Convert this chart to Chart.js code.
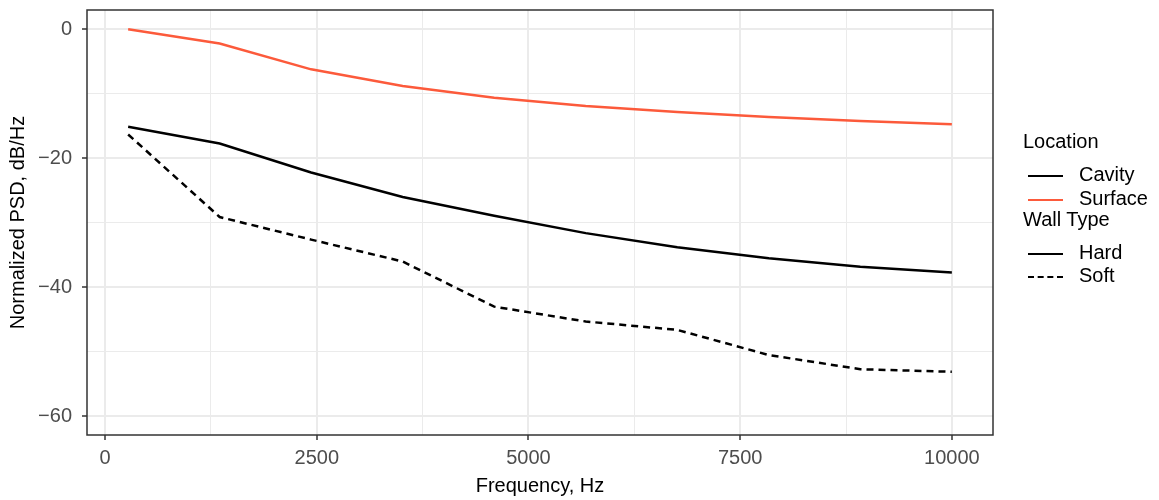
<!DOCTYPE html>
<html lang="en">
<head>
    <meta charset="UTF-8">
    <title>Normalized PSD</title>
    <script src="https://cdn.jsdelivr.net/npm/chart.js@4.4.0/dist/chart.umd.min.js"></script>
    <style>
        body {
            margin: 0;
            background: #ffffff;
            font-family: "Liberation Sans", Arial, sans-serif;
        }

        .wrap {
            position: relative;
            width: 1159px;
            height: 500px;
        }

        .legend {
            position: absolute;
            left: 1023px;
            top: 128px;
            color: #000;
            font-size: 20px;
        }

        .legend .ttl {
            position: absolute;
            left: 0;
            white-space: nowrap;
            line-height: 24px;
        }

        .legend .item {
            position: absolute;
            left: 5px;
            white-space: nowrap;
            line-height: 24px;
        }

        .legend .key {
            display: inline-block;
            width: 35px;
            height: 0;
            border-top: 2.5px solid #000;
            vertical-align: middle;
            margin-right: 16px;
        }
    </style>
</head>
<body>
    <div class="wrap">
        <canvas id="psdChart" width="1159" height="500"></canvas>
        <div class="legend">
            <div class="ttl" style="top:1px">Location</div>
            <div class="item" style="top:34px"><span class="key"></span>Cavity</div>
            <div class="item" style="top:58px"><span class="key" style="border-color:#fc5a3b"></span>Surface</div>
            <div class="ttl" style="top:79px">Wall Type</div>
            <div class="item" style="top:112px"><span class="key"></span>Hard</div>
            <div class="item" style="top:135px"><span class="key" style="border-top-style:dashed"></span>Soft</div>
        </div>
    </div>

    <script>
        // frequencies (Hz) and normalized PSD (dB/Hz)
        const freqs = [272, 1353, 2433, 3514, 4595, 5676, 6757, 7838, 8919, 10000];
        const surfaceHard = [0, -2.2, -6.2, -8.8, -10.6, -11.9, -12.8, -13.6, -14.2, -14.7];
        const cavityHard = [-15.1, -17.7, -22.2, -26.0, -28.9, -31.6, -33.8, -35.5, -36.8, -37.7];
        const cavitySoft = [-16.3, -29.1, -32.6, -36.0, -43.0, -45.3, -46.6, -50.5, -52.7, -53.1];

        const xTicks = [0, 1250, 2500, 3750, 5000, 6250, 7500, 8750, 10000];
        const yTicks = [-60, -50, -40, -30, -20, -10, 0];

        function toPoints(ys) {
            return freqs.map((f, i) => ({ x: f, y: ys[i] }));
        }

        const panelBorder = {
            id: 'panelBorder',
            afterDraw(chart) {
                const a = chart.chartArea;
                const ctx = chart.ctx;
                ctx.save();
                ctx.strokeStyle = '#333333';
                ctx.lineWidth = 1.5;
                ctx.strokeRect(a.left, a.top, a.right - a.left, a.bottom - a.top);
                ctx.restore();
            }
        };

        const isMajorX = v => v % 2500 === 0;
        const isMajorY = v => v % 20 === 0;

        new Chart(document.getElementById('psdChart'), {
            type: 'line',
            data: {
                datasets: [
                    {
                        label: 'Surface',
                        data: toPoints(surfaceHard),
                        borderColor: '#fc5a3b',
                        borderWidth: 2.5
                    },
                    {
                        label: 'Cavity Hard',
                        data: toPoints(cavityHard),
                        borderColor: '#000000',
                        borderWidth: 2.5
                    },
                    {
                        label: 'Cavity Soft',
                        data: toPoints(cavitySoft),
                        borderColor: '#000000',
                        borderWidth: 2.5,
                        borderDash: [7, 5]
                    }
                ]
            },
            options: {
                responsive: false,
                animation: false,
                layout: { padding: { top: 10, right: 166, bottom: 0, left: 0 } },
                elements: { point: { radius: 0 }, line: { tension: 0 } },
                plugins: { legend: { display: false }, tooltip: { enabled: false } },
                scales: {
                    x: {
                        type: 'linear',
                        min: -214,
                        max: 10486,
                        afterBuildTicks: s => { s.ticks = xTicks.map(v => ({ value: v })); },
                        afterFit: s => { s.height = 65; s.paddingLeft = 0; s.paddingRight = 0; },
                        ticks: {
                            autoSkip: false,
                            maxRotation: 0,
                            padding: 6,
                            color: '#4d4d4d',
                            font: { family: 'Liberation Sans', size: 20 },
                            callback: v => isMajorX(v) ? String(v) : ''
                        },
                        grid: {
                            color: '#ebebeb',
                            lineWidth: c => isMajorX(c.tick.value) ? 2 : 1,
                            tickColor: c => isMajorX(c.tick.value) ? '#333333' : 'rgba(0,0,0,0)',
                            tickLength: 5,
                            tickWidth: 1.5
                        },
                        border: { display: false },
                        title: {
                            display: true,
                            text: 'Frequency, Hz',
                            color: '#000',
                            font: { family: 'Liberation Sans', size: 20 },
                            padding: { top: 0, bottom: 2 }
                        }
                    },
                    y: {
                        min: -62.9,
                        max: 3.0,
                        afterBuildTicks: s => { s.ticks = yTicks.map(v => ({ value: v })); },
                        afterFit: s => { s.width = 87; s.paddingTop = 0; s.paddingBottom = 0; },
                        ticks: {
                            autoSkip: false,
                            padding: 10,
                            color: '#4d4d4d',
                            font: { family: 'Liberation Sans', size: 20 },
                            callback: v => isMajorY(v) ? (v < 0 ? '\u2212' + Math.abs(v) : String(v)) : ''
                        },
                        grid: {
                            color: '#ebebeb',
                            lineWidth: c => isMajorY(c.tick.value) ? 2 : 1,
                            tickColor: c => isMajorY(c.tick.value) ? '#333333' : 'rgba(0,0,0,0)',
                            tickLength: 5,
                            tickWidth: 1.5
                        },
                        border: { display: false },
                        title: {
                            display: true,
                            text: 'Normalized PSD, dB/Hz',
                            color: '#000',
                            font: { family: 'Liberation Sans', size: 20 },
                            padding: { top: 6, bottom: 0 }
                        }
                    }
                }
            },
            plugins: [panelBorder]
        });
    </script>
</body>
</html>
